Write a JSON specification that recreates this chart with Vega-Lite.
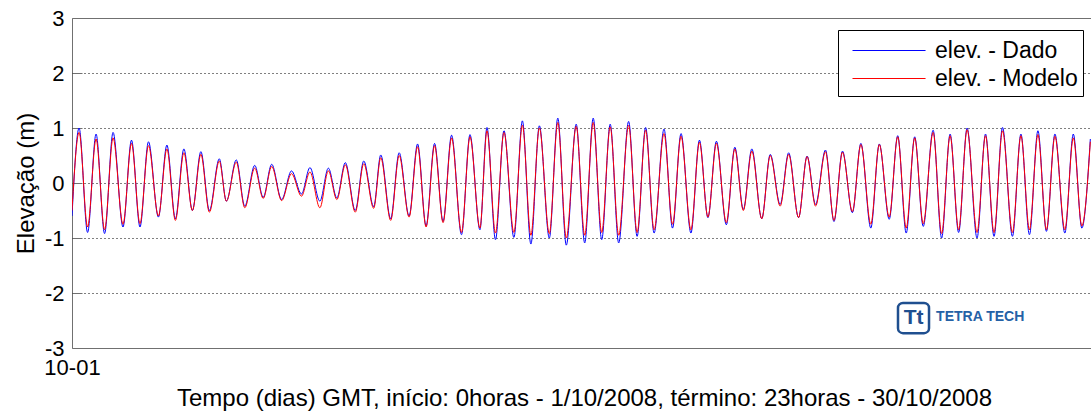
{
  "$schema": "https://vega.github.io/schema/vega-lite/v6.json",
  "width": 1024,
  "height": 330,
  "autosize": "none",
  "padding": {"left": 72, "top": 18, "right": 0, "bottom": 64},
  "background": "white",
  "config": {
    "font": "Liberation Sans",
    "view": {"stroke": "#707070", "strokeWidth": 1}
  },
  "layer": [
    {
      "data": {
        "values": [
          {"t": "2008-10-01T00:00", "Dado": -0.6, "Modelo": -0.5},
          {"t": "2008-10-01T05:00", "Dado": 1.0, "Modelo": 0.92},
          {"t": "2008-10-01T11:00", "Dado": -0.9, "Modelo": -0.8},
          {"t": "2008-10-01T17:00", "Dado": 0.89, "Modelo": 0.8},
          {"t": "2008-10-01T23:00", "Dado": -0.92, "Modelo": -0.85},
          {"t": "2008-10-02T05:00", "Dado": 0.92, "Modelo": 0.82},
          {"t": "2008-10-02T12:00", "Dado": -0.8, "Modelo": -0.75},
          {"t": "2008-10-02T18:00", "Dado": 0.78, "Modelo": 0.72},
          {"t": "2008-10-03T00:00", "Dado": -0.8, "Modelo": -0.74},
          {"t": "2008-10-03T06:00", "Dado": 0.75, "Modelo": 0.68},
          {"t": "2008-10-03T13:00", "Dado": -0.62, "Modelo": -0.6},
          {"t": "2008-10-03T19:00", "Dado": 0.69, "Modelo": 0.62},
          {"t": "2008-10-04T01:00", "Dado": -0.65, "Modelo": -0.68},
          {"t": "2008-10-04T07:00", "Dado": 0.62, "Modelo": 0.55},
          {"t": "2008-10-04T13:00", "Dado": -0.5, "Modelo": -0.5},
          {"t": "2008-10-04T19:00", "Dado": 0.57, "Modelo": 0.52},
          {"t": "2008-10-05T01:00", "Dado": -0.5, "Modelo": -0.53},
          {"t": "2008-10-05T08:00", "Dado": 0.44, "Modelo": 0.4},
          {"t": "2008-10-05T13:00", "Dado": -0.33, "Modelo": -0.33},
          {"t": "2008-10-05T20:00", "Dado": 0.42, "Modelo": 0.38},
          {"t": "2008-10-06T02:00", "Dado": -0.42, "Modelo": -0.45},
          {"t": "2008-10-06T09:00", "Dado": 0.32, "Modelo": 0.27},
          {"t": "2008-10-06T15:00", "Dado": -0.26, "Modelo": -0.28},
          {"t": "2008-10-06T21:00", "Dado": 0.34, "Modelo": 0.3},
          {"t": "2008-10-07T04:00", "Dado": -0.3, "Modelo": -0.32},
          {"t": "2008-10-07T11:00", "Dado": 0.22, "Modelo": 0.17},
          {"t": "2008-10-07T18:00", "Dado": -0.2, "Modelo": -0.24},
          {"t": "2008-10-08T00:00", "Dado": 0.28, "Modelo": 0.2},
          {"t": "2008-10-08T07:00", "Dado": -0.33, "Modelo": -0.45},
          {"t": "2008-10-08T13:00", "Dado": 0.27, "Modelo": 0.22},
          {"t": "2008-10-08T19:00", "Dado": -0.27, "Modelo": -0.3},
          {"t": "2008-10-09T01:00", "Dado": 0.37, "Modelo": 0.33},
          {"t": "2008-10-09T08:00", "Dado": -0.5, "Modelo": -0.53},
          {"t": "2008-10-09T14:00", "Dado": 0.4, "Modelo": 0.35},
          {"t": "2008-10-09T21:00", "Dado": -0.43, "Modelo": -0.46},
          {"t": "2008-10-10T02:00", "Dado": 0.51, "Modelo": 0.46},
          {"t": "2008-10-10T09:00", "Dado": -0.65, "Modelo": -0.68},
          {"t": "2008-10-10T15:00", "Dado": 0.55, "Modelo": 0.5},
          {"t": "2008-10-10T22:00", "Dado": -0.6, "Modelo": -0.62},
          {"t": "2008-10-11T04:00", "Dado": 0.71, "Modelo": 0.66},
          {"t": "2008-10-11T10:00", "Dado": -0.78, "Modelo": -0.8},
          {"t": "2008-10-11T16:00", "Dado": 0.72, "Modelo": 0.68},
          {"t": "2008-10-11T22:00", "Dado": -0.7, "Modelo": -0.72},
          {"t": "2008-10-12T04:00", "Dado": 0.87, "Modelo": 0.82},
          {"t": "2008-10-12T11:00", "Dado": -0.94, "Modelo": -0.9},
          {"t": "2008-10-12T17:00", "Dado": 0.88, "Modelo": 0.84},
          {"t": "2008-10-13T00:00", "Dado": -0.85, "Modelo": -0.82},
          {"t": "2008-10-13T05:00", "Dado": 1.01, "Modelo": 0.95},
          {"t": "2008-10-13T11:00", "Dado": -1.03, "Modelo": -0.91},
          {"t": "2008-10-13T17:00", "Dado": 0.95, "Modelo": 0.92},
          {"t": "2008-10-14T00:00", "Dado": -0.99, "Modelo": -0.9},
          {"t": "2008-10-14T06:00", "Dado": 1.13, "Modelo": 1.05},
          {"t": "2008-10-14T12:00", "Dado": -1.11, "Modelo": -0.95},
          {"t": "2008-10-14T18:00", "Dado": 1.04, "Modelo": 1.0},
          {"t": "2008-10-15T01:00", "Dado": -1.0, "Modelo": -0.92},
          {"t": "2008-10-15T07:00", "Dado": 1.18, "Modelo": 1.1},
          {"t": "2008-10-15T13:00", "Dado": -1.13, "Modelo": -1.0},
          {"t": "2008-10-15T20:00", "Dado": 1.07, "Modelo": 1.03},
          {"t": "2008-10-16T02:00", "Dado": -1.09, "Modelo": -0.95},
          {"t": "2008-10-16T08:00", "Dado": 1.18, "Modelo": 1.1},
          {"t": "2008-10-16T14:00", "Dado": -1.03, "Modelo": -0.9},
          {"t": "2008-10-16T20:00", "Dado": 1.07, "Modelo": 1.02},
          {"t": "2008-10-17T02:00", "Dado": -1.09, "Modelo": -0.95},
          {"t": "2008-10-17T09:00", "Dado": 1.12, "Modelo": 1.05},
          {"t": "2008-10-17T15:00", "Dado": -0.97, "Modelo": -0.9},
          {"t": "2008-10-17T21:00", "Dado": 1.01, "Modelo": 0.96},
          {"t": "2008-10-18T03:00", "Dado": -0.91, "Modelo": -0.85},
          {"t": "2008-10-18T10:00", "Dado": 0.98, "Modelo": 0.9},
          {"t": "2008-10-18T16:00", "Dado": -0.82, "Modelo": -0.75},
          {"t": "2008-10-18T22:00", "Dado": 0.9, "Modelo": 0.85},
          {"t": "2008-10-19T05:00", "Dado": -0.91, "Modelo": -0.85},
          {"t": "2008-10-19T11:00", "Dado": 0.78, "Modelo": 0.74},
          {"t": "2008-10-19T17:00", "Dado": -0.63, "Modelo": -0.62},
          {"t": "2008-10-19T23:00", "Dado": 0.76, "Modelo": 0.72},
          {"t": "2008-10-20T06:00", "Dado": -0.76, "Modelo": -0.72},
          {"t": "2008-10-20T12:00", "Dado": 0.65, "Modelo": 0.62},
          {"t": "2008-10-20T18:00", "Dado": -0.48, "Modelo": -0.5},
          {"t": "2008-10-21T00:00", "Dado": 0.62, "Modelo": 0.58},
          {"t": "2008-10-21T07:00", "Dado": -0.65, "Modelo": -0.65},
          {"t": "2008-10-21T13:00", "Dado": 0.52, "Modelo": 0.5},
          {"t": "2008-10-21T20:00", "Dado": -0.39, "Modelo": -0.42},
          {"t": "2008-10-22T02:00", "Dado": 0.55, "Modelo": 0.52},
          {"t": "2008-10-22T09:00", "Dado": -0.63, "Modelo": -0.63},
          {"t": "2008-10-22T15:00", "Dado": 0.49, "Modelo": 0.48},
          {"t": "2008-10-22T21:00", "Dado": -0.39, "Modelo": -0.42},
          {"t": "2008-10-23T04:00", "Dado": 0.6, "Modelo": 0.57},
          {"t": "2008-10-23T10:00", "Dado": -0.7, "Modelo": -0.68},
          {"t": "2008-10-23T16:00", "Dado": 0.58, "Modelo": 0.56},
          {"t": "2008-10-23T23:00", "Dado": -0.54, "Modelo": -0.52},
          {"t": "2008-10-24T05:00", "Dado": 0.72, "Modelo": 0.7},
          {"t": "2008-10-24T12:00", "Dado": -0.82, "Modelo": -0.75},
          {"t": "2008-10-24T18:00", "Dado": 0.71, "Modelo": 0.7},
          {"t": "2008-10-25T01:00", "Dado": -0.66, "Modelo": -0.62},
          {"t": "2008-10-25T07:00", "Dado": 0.86, "Modelo": 0.84},
          {"t": "2008-10-25T13:00", "Dado": -0.91, "Modelo": -0.82},
          {"t": "2008-10-25T19:00", "Dado": 0.84, "Modelo": 0.82},
          {"t": "2008-10-26T01:00", "Dado": -0.79, "Modelo": -0.74},
          {"t": "2008-10-26T08:00", "Dado": 0.96, "Modelo": 0.92},
          {"t": "2008-10-26T14:00", "Dado": -1.0, "Modelo": -0.92},
          {"t": "2008-10-26T20:00", "Dado": 0.89, "Modelo": 0.86},
          {"t": "2008-10-27T02:00", "Dado": -0.9, "Modelo": -0.85},
          {"t": "2008-10-27T08:00", "Dado": 1.0, "Modelo": 0.97},
          {"t": "2008-10-27T15:00", "Dado": -1.0, "Modelo": -0.9},
          {"t": "2008-10-27T21:00", "Dado": 0.89, "Modelo": 0.86},
          {"t": "2008-10-28T03:00", "Dado": -0.97, "Modelo": -0.9},
          {"t": "2008-10-28T09:00", "Dado": 1.01, "Modelo": 0.95},
          {"t": "2008-10-28T16:00", "Dado": -0.97, "Modelo": -0.9},
          {"t": "2008-10-28T22:00", "Dado": 0.89, "Modelo": 0.86},
          {"t": "2008-10-29T04:00", "Dado": -0.94, "Modelo": -0.85},
          {"t": "2008-10-29T10:00", "Dado": 0.95, "Modelo": 0.88},
          {"t": "2008-10-29T16:00", "Dado": -0.88, "Modelo": -0.85},
          {"t": "2008-10-29T22:00", "Dado": 0.89, "Modelo": 0.85},
          {"t": "2008-10-30T05:00", "Dado": -0.91, "Modelo": -0.85},
          {"t": "2008-10-30T11:00", "Dado": 0.89, "Modelo": 0.82},
          {"t": "2008-10-30T17:00", "Dado": -0.82, "Modelo": -0.78},
          {"t": "2008-10-30T23:00", "Dado": 0.8, "Modelo": 0.75}
        ]
      },
      "transform": [{"fold": ["Dado", "Modelo"], "as": ["serie", "elev"]}],
      "mark": {"type": "line", "interpolate": "monotone", "strokeWidth": 1, "clip": true},
      "encoding": {
        "x": {
          "field": "t",
          "type": "temporal",
          "scale": {"domain": [{"year": 2008, "month": 10, "date": 1, "hours": 0}, {"year": 2008, "month": 10, "date": 31, "hours": 3}]},
          "axis": {
            "title": "Tempo (dias) GMT, início: 0horas - 1/10/2008, término: 23horas - 30/10/2008",
            "values": [{"year": 2008, "month": 10, "date": 1}],
            "format": "%m-%d",
            "labelFlush": false,
            "grid": false,
            "ticks": false,
            "tickSize": 0,
            "domain": false,
            "labelPadding": 9,
            "labelFontSize": 22,
            "labelColor": "#000",
            "titleFontSize": 24,
            "titleFontWeight": "normal",
            "titleColor": "#000",
            "titlePadding": 8
          }
        },
        "y": {
          "field": "elev",
          "type": "quantitative",
          "scale": {"domain": [-3, 3], "nice": false},
          "axis": {
            "title": "Elevação (m)",
            "values": [-3, -2, -1, 0, 1, 2, 3],
            "labelExpr": "toString(datum.value)",
            "grid": true,
            "gridColor": "#000",
            "gridDash": [1, 3],
            "gridWidth": 1,
            "gridOpacity": {"condition": {"test": "abs(datum.value) == 3", "value": 0}, "value": 1},
            "domain": false,
            "ticks": true,
            "tickSize": -10,
            "tickColor": "#707070",
            "labelPadding": 18,
            "labelFontSize": 22,
            "labelColor": "#000",
            "titleFontSize": 24,
            "titleFontWeight": "normal",
            "titleColor": "#000",
            "titlePadding": 6
          }
        },
        "color": {
          "field": "serie",
          "type": "nominal",
          "scale": {"domain": ["Dado", "Modelo"], "range": ["#0000ff", "#ff0000"]},
          "legend": {
            "title": null,
            "orient": "none",
            "legendX": 766,
            "legendY": 12,
            "direction": "vertical",
            "strokeColor": "#000",
            "fillColor": "#fff",
            "padding": 5,
            "symbolType": "M-0.4,0H4.47",
            "symbolSize": 900,
            "symbolStrokeWidth": 1,
            "labelOffset": 61,
            "labelFontSize": 23,
            "labelColor": "#000",
            "labelLimit": 300,
            "rowPadding": 0,
            "labelExpr": "'elev. - ' + datum.label"
          }
        }
      }
    },
    {
      "data": {"values": [{"marca": "TETRA TECH", "sigla": "Tt"}]},
      "mark": {"type": "rect", "filled": false, "stroke": "#1f4f8f", "strokeWidth": 2.5, "cornerRadius": 5},
      "encoding": {
        "x": {"datum": {"year": 2008, "month": 10, "date": 25, "hours": 7, "minutes": 12}, "type": "temporal"},
        "x2": {"datum": {"year": 2008, "month": 10, "date": 26, "hours": 5, "minutes": 6}},
        "y": {"datum": -2.18, "type": "quantitative"},
        "y2": {"datum": -2.73}
      }
    },
    {
      "data": {"values": [{"marca": "TETRA TECH", "sigla": "Tt"}]},
      "mark": {"type": "text", "fontWeight": "bold", "fontSize": 21, "color": "#1f4f8f", "align": "center", "baseline": "middle"},
      "encoding": {
        "x": {"datum": {"year": 2008, "month": 10, "date": 25, "hours": 18, "minutes": 12}, "type": "temporal"},
        "y": {"datum": -2.46, "type": "quantitative"},
        "text": {"field": "sigla"}
      }
    },
    {
      "data": {"values": [{"marca": "TETRA TECH", "sigla": "Tt"}]},
      "mark": {"type": "text", "fontWeight": "bold", "fontSize": 14, "color": "#2561a6", "align": "left", "baseline": "middle"},
      "encoding": {
        "x": {"datum": {"year": 2008, "month": 10, "date": 26, "hours": 10, "minutes": 6}, "type": "temporal"},
        "y": {"datum": -2.44, "type": "quantitative"},
        "text": {"field": "marca"}
      }
    }
  ]
}
